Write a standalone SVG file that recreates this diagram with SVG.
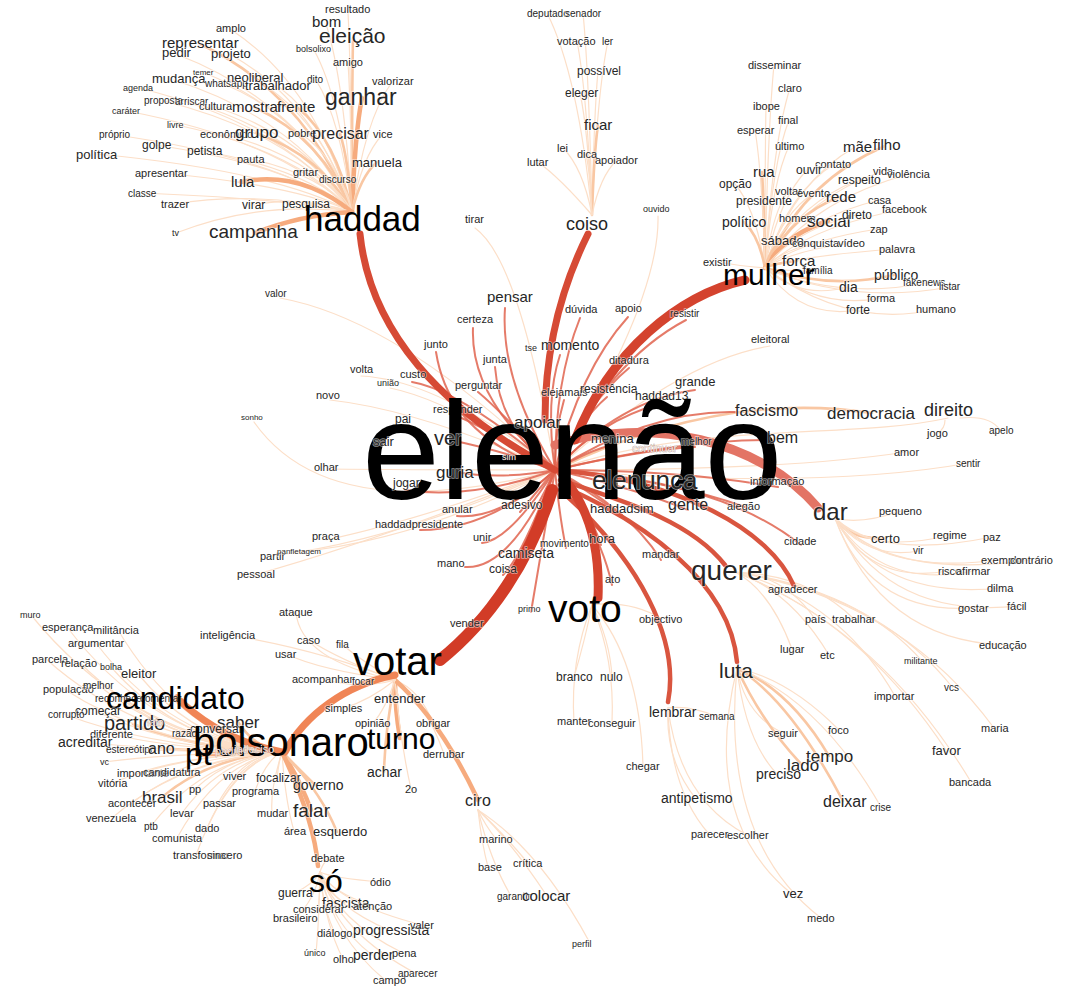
<svg xmlns="http://www.w3.org/2000/svg" width="1074" height="990" viewBox="0 0 1074 990">
<style>
text{font-family:"Liberation Sans",Arial,sans-serif;fill:#262626;paint-order:stroke;stroke:#fff;stroke-opacity:.55;stroke-width:1.6px}
.big{fill:#000;stroke:none}
.lt{fill:#fbe6e0;stroke:#777;stroke-opacity:.8;stroke-width:.5px}
.e{fill:none;stroke-linecap:round}
.p1{stroke:#fcdfc8;stroke-width:1.2}
.p2{stroke:#f9c7a3;stroke-width:2.6}
.p3{stroke:#f6ab7e;stroke-width:4.5}
.p4{stroke:#f08556;stroke-width:7}
.r1{stroke:#e0644f;stroke-width:2;stroke-opacity:.85}
.r2{stroke:#d9553f;stroke-width:4.5}
.r3{stroke:#d64a35;stroke-width:7}
.r4{stroke:#d4432e;stroke-width:9}
.r5{stroke:#d23c27;stroke-width:12}
.rp{stroke:#e37465;stroke-width:9}
.s8{font-size:8px}.s9{font-size:9px}.s10{font-size:10px}.s11{font-size:11px}.s12{font-size:12px}.s13{font-size:13px}.s14{font-size:14px}.s15{font-size:15px}.s16{font-size:16px}.s17{font-size:17px}.s18{font-size:18px}.s19{font-size:19px}.s20{font-size:20px}.s21{font-size:21px}.s23{font-size:23px}.s24{font-size:24px}.s26{font-size:26px}.s28{font-size:28px}.s30{font-size:30px}.s32{font-size:32px}.s35{font-size:35px}.s39{font-size:39px}.s40{font-size:40px}.s140{font-size:140px}
</style>
<rect width="1074" height="990" fill="#fff"/>
<g id="connectors">
<path class="e p1" d="M352,212 Q351,72 348,12"/>
<path class="e p1" d="M352,212 Q344,80 326,24"/>
<path class="e p2" d="M352,212 Q352,90 353,38"/>
<path class="e p1" d="M352,212 Q341,99 314,50"/>
<path class="e p1" d="M352,212 Q351,108 348,63"/>
<path class="e p1" d="M352,212 Q364,121 392,82"/>
<path class="e p1" d="M352,212 Q341,120 316,80"/>
<path class="e p3" d="M352,212 Q355,132 362,98"/>
<path class="e p2" d="M352,212 Q306,94 200,44"/>
<path class="e p1" d="M352,212 Q315,84 230,29"/>
<path class="e p1" d="M352,212 Q299,101 176,54"/>
<path class="e p1" d="M352,212 Q316,102 231,55"/>
<path class="e p1" d="M352,212 Q299,120 174,80"/>
<path class="e p1" d="M352,212 Q308,115 205,73"/>
<path class="e p1" d="M352,212 Q314,122 224,84"/>
<path class="e p1" d="M352,212 Q323,119 255,79"/>
<path class="e p1" d="M352,212 Q330,125 279,87"/>
<path class="e p1" d="M352,212 Q288,125 139,88"/>
<path class="e p1" d="M352,212 Q296,134 164,101"/>
<path class="e p1" d="M352,212 Q303,135 190,102"/>
<path class="e p1" d="M352,212 Q311,139 216,107"/>
<path class="e p2" d="M352,212 Q323,139 254,107"/>
<path class="e p2" d="M352,212 Q336,139 297,107"/>
<path class="e p1" d="M352,212 Q285,141 127,111"/>
<path class="e p1" d="M352,212 Q300,151 177,125"/>
<path class="e p1" d="M352,212 Q281,158 116,135"/>
<path class="e p1" d="M352,212 Q313,157 223,134"/>
<path class="e p2" d="M352,212 Q323,157 256,133"/>
<path class="e p1" d="M352,212 Q336,157 300,133"/>
<path class="e p2" d="M352,212 Q348,157 340,134"/>
<path class="e p1" d="M352,212 Q361,157 383,134"/>
<path class="e p1" d="M352,212 Q276,171 97,154"/>
<path class="e p1" d="M352,212 Q293,165 155,145"/>
<path class="e p1" d="M352,212 Q307,169 203,151"/>
<path class="e p2" d="M352,212 Q360,177 377,162"/>
<path class="e p1" d="M352,212 Q322,175 251,159"/>
<path class="e p1" d="M352,212 Q295,185 161,173"/>
<path class="e p1" d="M352,212 Q338,184 305,172"/>
<path class="e p1" d="M352,212 Q348,190 339,180"/>
<path class="e p3" d="M352,212 Q300,170 241,182"/>
<path class="e p1" d="M352,212 Q289,199 142,193"/>
<path class="e p1" d="M352,212 Q260,190 174,204"/>
<path class="e p1" d="M352,212 Q300,195 254,205"/>
<path class="e p1" d="M352,212 Q330,205 310,204"/>
<path class="e p1" d="M352,212 Q260,200 176,233"/>
<path class="e p3" d="M352,212 Q300,215 255,233"/>
<path class="e p1" d="M592,215 Q578,74 547,13"/>
<path class="e p1" d="M592,215 Q589,74 583,13"/>
<path class="e p1" d="M592,215 Q587,93 577,41"/>
<path class="e p1" d="M592,215 Q597,93 608,41"/>
<path class="e p1" d="M592,215 Q594,114 598,71"/>
<path class="e p1" d="M592,215 Q588,130 580,93"/>
<path class="e p2" d="M592,215 Q594,152 598,125"/>
<path class="e p1" d="M592,215 Q583,168 563,148"/>
<path class="e p1" d="M592,215 Q590,172 586,154"/>
<path class="e p1" d="M592,215 Q600,176 617,160"/>
<path class="e p1" d="M592,215 Q560,178 538,162"/>
<path class="e p1" d="M765,268 Q768,126 774,65"/>
<path class="e p1" d="M765,268 Q773,142 790,88"/>
<path class="e p1" d="M765,268 Q765,155 766,106"/>
<path class="e p1" d="M765,268 Q772,164 789,120"/>
<path class="e p1" d="M765,268 Q762,172 755,130"/>
<path class="e p1" d="M765,268 Q772,183 789,146"/>
<path class="e p1" d="M765,268 Q792,183 855,147"/>
<path class="e p2" d="M765,268 Q801,182 885,146"/>
<path class="e p1" d="M765,268 Q786,195 834,164"/>
<path class="e p1" d="M765,268 Q778,200 807,170"/>
<path class="e p2" d="M765,268 Q764,201 762,172"/>
<path class="e p1" d="M765,268 Q800,200 883,171"/>
<path class="e p1" d="M765,268 Q808,202 909,174"/>
<path class="e p1" d="M765,268 Q793,206 858,180"/>
<path class="e p1" d="M765,268 Q756,209 735,184"/>
<path class="e p1" d="M765,268 Q772,214 788,191"/>
<path class="e p1" d="M765,268 Q780,215 814,193"/>
<path class="e p2" d="M765,268 Q787,218 839,197"/>
<path class="e p1" d="M765,268 Q799,220 879,200"/>
<path class="e p1" d="M765,268 Q764,221 762,201"/>
<path class="e p1" d="M765,268 Q807,227 905,209"/>
<path class="e p2" d="M765,268 Q759,236 744,222"/>
<path class="e p1" d="M765,268 Q775,233 798,218"/>
<path class="e p3" d="M765,268 Q784,235 828,221"/>
<path class="e p1" d="M765,268 Q792,231 856,215"/>
<path class="e p1" d="M765,268 Q799,241 878,229"/>
<path class="e p2" d="M765,268 Q770,249 782,240"/>
<path class="e p1" d="M765,268 Q780,251 815,243"/>
<path class="e p1" d="M765,268 Q791,251 851,243"/>
<path class="e p1" d="M765,268 Q805,255 897,249"/>
<path class="e p2" d="M765,268 Q775,263 797,261"/>
<path class="e p1" d="M765,268 Q782,271 822,271"/>
<path class="e p2" d="M765,268 Q830,290 894,275"/>
<path class="e p1" d="M765,268 Q840,300 925,283"/>
<path class="e p1" d="M765,268 Q850,305 950,287"/>
<path class="e p1" d="M765,268 Q800,300 848,287"/>
<path class="e p1" d="M765,268 Q820,310 881,298"/>
<path class="e p1" d="M765,268 Q800,320 858,310"/>
<path class="e p1" d="M765,268 Q850,330 936,309"/>
<path class="e p1" d="M765,268 Q740,266 718,262"/>
<path class="e p1" d="M555,470 Q400,320 280,298"/>
<path class="e p1" d="M555,470 Q440,380 361,376"/>
<path class="e p1" d="M555,470 Q420,410 330,400"/>
<path class="e p1" d="M555,470 Q330,530 254,422"/>
<path class="e p1" d="M555,470 Q420,470 328,469"/>
<path class="e p1" d="M555,470 Q450,400 390,388"/>
<path class="e p1" d="M555,470 Q520,260 475,228"/>
<path class="e p1" d="M555,470 Q660,300 658,216"/>
<path class="e p1" d="M555,470 Q680,360 770,346"/>
<path class="e p1" d="M555,470 Q420,520 326,540"/>
<path class="e p1" d="M555,470 Q400,540 272,556"/>
<path class="e p1" d="M555,470 Q420,540 298,552"/>
<path class="e p1" d="M555,470 Q380,540 254,575"/>
<path class="e p2" d="M555,470 Q720,390 872,413"/>
<path class="e p1" d="M555,470 C700,420 850,440 948,418"/>
<path class="e p1" d="M555,470 Q790,470 906,452"/>
<path class="e p1" d="M555,470 Q820,490 969,463"/>
<path class="e p1" d="M960,418 Q990,415 1000,430"/>
<path class="e p1" d="M945,420 Q945,428 938,433"/>
<path class="e p1" d="M835,518 Q860,525 901,511"/>
<path class="e p2" d="M835,518 Q850,540 884,538"/>
<path class="e p1" d="M835,518 Q870,555 950,535"/>
<path class="e p1" d="M835,518 Q880,560 992,537"/>
<path class="e p1" d="M835,518 Q865,560 919,551"/>
<path class="e p1" d="M835,518 Q880,575 1000,560"/>
<path class="e p1" d="M835,518 Q890,580 1030,560"/>
<path class="e p1" d="M835,518 Q870,585 948,571"/>
<path class="e p1" d="M835,518 Q880,590 974,571"/>
<path class="e p1" d="M835,518 Q880,600 1001,588"/>
<path class="e p1" d="M835,518 Q890,620 1020,606"/>
<path class="e p1" d="M835,518 Q870,615 973,608"/>
<path class="e p1" d="M835,518 Q880,640 1004,645"/>
<path class="e p1" d="M735,572 Q785,575 815,619"/>
<path class="e p1" d="M735,572 Q810,575 854,619"/>
<path class="e p1" d="M735,572 Q770,590 792,649"/>
<path class="e p1" d="M735,572 Q790,590 829,655"/>
<path class="e p1" d="M735,572 Q860,590 922,661"/>
<path class="e p1" d="M735,572 Q840,600 895,696"/>
<path class="e p1" d="M735,572 Q880,595 953,688"/>
<path class="e p1" d="M735,572 Q900,600 994,728"/>
<path class="e p1" d="M735,572 Q860,620 946,750"/>
<path class="e p1" d="M735,572 Q880,630 971,782"/>
<path class="e p1" d="M737,668 Q745,715 783,733"/>
<path class="e p1" d="M737,668 Q790,680 839,730"/>
<path class="e p2" d="M737,668 Q790,690 829,756"/>
<path class="e p2" d="M737,668 Q760,720 802,765"/>
<path class="e p1" d="M737,668 Q745,740 777,774"/>
<path class="e p2" d="M737,668 Q790,700 843,801"/>
<path class="e p1" d="M737,668 Q820,700 881,807"/>
<path class="e p1" d="M737,668 Q700,820 792,894"/>
<path class="e p1" d="M737,668 Q720,840 821,918"/>
<path class="e p1" d="M592,605 Q585,640 574,677"/>
<path class="e p1" d="M592,605 Q610,640 612,677"/>
<path class="e p1" d="M592,605 Q570,660 574,722"/>
<path class="e p1" d="M592,605 Q615,660 612,723"/>
<path class="e p1" d="M592,605 Q640,660 643,766"/>
<path class="e p1" d="M592,605 Q630,600 662,619"/>
<path class="e p1" d="M668,708 Q665,760 696,799"/>
<path class="e p1" d="M668,708 Q670,790 709,834"/>
<path class="e p1" d="M668,708 Q680,800 747,835"/>
<path class="e p1" d="M668,708 Q690,705 718,717"/>
<path class="e p3" d="M395,680 Q395,710 400,738"/>
<path class="e p1" d="M395,680 Q395,690 400,698"/>
<path class="e p2" d="M395,680 Q385,730 384,772"/>
<path class="e p1" d="M395,680 Q400,740 411,789"/>
<path class="e p1" d="M395,680 Q420,690 433,723"/>
<path class="e p1" d="M395,680 Q425,700 444,754"/>
<path class="e p3" d="M395,680 Q440,720 478,800"/>
<path class="e p1" d="M395,680 Q300,660 296,612"/>
<path class="e p1" d="M395,680 Q340,660 309,640"/>
<path class="e p1" d="M395,680 Q360,660 343,645"/>
<path class="e p1" d="M395,680 Q320,670 286,654"/>
<path class="e p1" d="M395,680 Q360,690 323,679"/>
<path class="e p1" d="M395,680 Q380,682 364,681"/>
<path class="e p1" d="M395,680 Q370,700 344,708"/>
<path class="e p1" d="M395,680 Q385,710 373,723"/>
<path class="e p1" d="M395,680 Q320,650 230,635"/>
<path class="e p3" d="M282,752 Q232,752 198,755"/>
<path class="e p2" d="M282,752 Q193,749 133,724"/>
<path class="e p2" d="M282,752 Q256,749 238,722"/>
<path class="e p2" d="M282,752 Q209,752 160,748"/>
<path class="e p2" d="M282,752 Q209,757 161,798"/>
<path class="e p1" d="M282,752 Q163,751 84,742"/>
<path class="e p1" d="M282,752 Q196,744 138,674"/>
<path class="e p1" d="M282,752 Q131,738 31,615"/>
<path class="e p1" d="M282,752 Q153,740 67,627"/>
<path class="e p1" d="M282,752 Q184,740 118,630"/>
<path class="e p1" d="M282,752 Q170,741 96,643"/>
<path class="e p1" d="M282,752 Q140,743 46,659"/>
<path class="e p1" d="M282,752 Q161,743 80,663"/>
<path class="e p1" d="M282,752 Q179,744 111,667"/>
<path class="e p1" d="M282,752 Q151,746 64,689"/>
<path class="e p1" d="M282,752 Q172,745 98,685"/>
<path class="e p1" d="M282,752 Q185,747 120,698"/>
<path class="e p1" d="M282,752 Q151,748 64,714"/>
<path class="e p1" d="M282,752 Q170,748 96,711"/>
<path class="e p1" d="M282,752 Q208,749 159,722"/>
<path class="e p1" d="M282,752 Q240,750 212,729"/>
<path class="e p1" d="M282,752 Q222,750 182,733"/>
<path class="e p1" d="M282,752 Q179,750 111,734"/>
<path class="e p1" d="M282,752 Q189,752 127,749"/>
<path class="e p1" d="M282,752 Q175,753 104,762"/>
<path class="e p1" d="M282,752 Q196,754 138,773"/>
<path class="e p1" d="M282,752 Q217,754 173,772"/>
<path class="e p1" d="M282,752 Q180,755 112,783"/>
<path class="e p1" d="M282,752 Q192,757 132,803"/>
<path class="e p1" d="M282,752 Q230,756 195,789"/>
<path class="e p1" d="M282,752 Q244,757 218,803"/>
<path class="e p1" d="M282,752 Q180,759 112,818"/>
<path class="e p1" d="M282,752 Q222,758 182,813"/>
<path class="e p1" d="M282,752 Q203,759 151,826"/>
<path class="e p1" d="M282,752 Q237,760 207,828"/>
<path class="e p1" d="M282,752 Q219,761 177,838"/>
<path class="e p1" d="M282,752 Q230,762 196,855"/>
<path class="e p1" d="M282,752 Q254,754 235,776"/>
<path class="e p1" d="M282,752 Q279,760 277,778"/>
<path class="e p1" d="M282,752 Q266,760 255,791"/>
<path class="e p2" d="M282,752 Q300,770 315,785"/>
<path class="e p1" d="M282,752 Q270,790 272,813"/>
<path class="e p3" d="M282,752 Q300,780 311,810"/>
<path class="e p1" d="M282,752 Q285,800 294,831"/>
<path class="e p2" d="M282,752 Q320,790 337,832"/>
<path class="e p3" d="M282,752 C300,790 315,830 318,866"/>
<path class="e p4" d="M282,752 Q220,740 177,698"/>
<path class="e p4" d="M395,675 C345,685 305,715 285,752"/>
<path class="e p1" d="M320,872 Q322,865 328,858"/>
<path class="e p1" d="M320,872 Q313,885 294,893"/>
<path class="e p1" d="M320,872 Q332,878 381,882"/>
<path class="e p1" d="M320,872 Q325,891 345,903"/>
<path class="e p1" d="M320,872 Q331,892 373,906"/>
<path class="e p1" d="M320,872 Q320,894 318,909"/>
<path class="e p1" d="M320,872 Q315,900 295,918"/>
<path class="e p1" d="M320,872 Q334,907 389,930"/>
<path class="e p1" d="M320,872 Q340,904 422,925"/>
<path class="e p1" d="M320,872 Q323,909 335,933"/>
<path class="e p1" d="M320,872 Q319,922 316,953"/>
<path class="e p1" d="M320,872 Q325,924 343,959"/>
<path class="e p1" d="M320,872 Q330,922 372,955"/>
<path class="e p1" d="M320,872 Q337,921 403,953"/>
<path class="e p1" d="M320,872 Q339,933 417,974"/>
<path class="e p1" d="M320,872 Q333,937 385,980"/>
<path class="e p1" d="M478,810 Q485,825 496,839"/>
<path class="e p1" d="M478,810 Q482,845 488,867"/>
<path class="e p1" d="M478,810 Q500,830 528,863"/>
<path class="e p1" d="M478,810 Q490,860 511,896"/>
<path class="e p1" d="M478,810 Q510,840 547,896"/>
<path class="e p1" d="M478,810 Q540,850 590,943"/>
<path class="e r1" d="M555,470 Q500,380 505,308"/>
<path class="e r1" d="M555,470 Q470,400 473,328"/>
<path class="e r1" d="M555,470 Q450,440 436,352"/>
<path class="e r1" d="M555,470 Q500,430 495,367"/>
<path class="e r1" d="M555,470 Q545,400 560,355"/>
<path class="e r1" d="M555,470 Q555,380 580,318"/>
<path class="e r1" d="M555,470 Q580,370 628,317"/>
<path class="e r1" d="M555,470 Q610,360 686,320"/>
<path class="e r1" d="M555,470 Q590,400 629,368"/>
<path class="e r1" d="M555,470 Q555,430 564,400"/>
<path class="e r1" d="M555,470 Q580,420 607,397"/>
<path class="e r1" d="M555,470 Q600,420 660,404"/>
<path class="e r1" d="M555,470 Q620,400 695,390"/>
<path class="e r1" d="M555,470 Q650,410 735,412"/>
<path class="e r1" d="M555,470 Q680,440 768,440"/>
<path class="e r1" d="M555,470 Q460,390 412,382"/>
<path class="e r1" d="M555,470 Q500,410 478,392"/>
<path class="e r1" d="M555,470 Q490,430 457,416"/>
<path class="e r1" d="M555,470 Q500,450 450,440"/>
<path class="e r1" d="M555,470 Q500,480 456,472"/>
<path class="e r1" d="M555,470 Q470,500 405,490"/>
<path class="e r1" d="M555,470 Q500,520 457,516"/>
<path class="e r1" d="M555,470 Q530,500 520,512"/>
<path class="e r1" d="M555,470 Q490,530 420,530"/>
<path class="e r1" d="M555,470 Q510,540 482,543"/>
<path class="e r1" d="M555,470 Q530,530 526,552"/>
<path class="e r1" d="M555,470 Q510,570 465,567"/>
<path class="e r1" d="M555,470 Q520,560 503,575"/>
<path class="e r1" d="M555,470 Q560,520 566,548"/>
<path class="e r1" d="M555,470 Q590,510 601,545"/>
<path class="e r1" d="M555,470 Q630,510 661,560"/>
<path class="e r1" d="M555,470 Q600,530 612,585"/>
<path class="e r1" d="M555,470 Q540,560 531,612"/>
<path class="e r1" d="M555,470 Q510,600 467,625"/>
<path class="e r1" d="M555,470 Q640,490 688,510"/>
<path class="e r1" d="M555,470 Q600,500 622,515"/>
<path class="e r1" d="M555,470 Q670,480 745,507"/>
<path class="e r1" d="M555,470 Q680,470 778,487"/>
<path class="e r1" d="M555,470 Q720,480 801,545"/>
<path class="e r1" d="M555,470 Q590,450 612,445"/>
<path class="e r1" d="M555,470 Q640,450 695,447"/>
<path class="e r2" d="M560,480 C620,500 690,520 725,565"/>
<path class="e r2" d="M560,485 C640,520 730,580 737,662"/>
<path class="e r2" d="M560,490 C640,560 680,640 668,702"/>
<path class="e r2" d="M555,470 C680,480 770,530 794,586"/>
<path class="e rp" d="M555,445 C650,415 760,440 818,508"/>
<path class="e r3" d="M555,470 C440,410 370,330 360,234"/>
<path class="e r3" d="M545,420 C545,340 565,280 588,234"/>
<path class="e r4" d="M575,440 C610,350 680,295 745,280"/>
<path class="e r4" d="M565,480 C590,510 600,550 598,598"/>
<path class="e r5" d="M552,490 C530,560 490,620 440,660"/>
</g>
<g id="nodes">
<g id="n-resultado"><text class="s11" x="325" y="13">resultado</text></g>
<g id="n-bom"><text class="s15" x="312" y="27">bom</text></g>
<g id="n-eleicao"><text class="s21" x="319" y="43">eleição</text></g>
<g id="n-bolsolixo"><text class="s9" x="296" y="52">bolsolixo</text></g>
<g id="n-amigo"><text class="s11" x="333" y="66">amigo</text></g>
<g id="n-valorizar"><text class="s11" x="372" y="85">valorizar</text></g>
<g id="n-dito"><text class="s10" x="307" y="83">dito</text></g>
<g id="n-ganhar"><text class="s23" x="325" y="105">ganhar</text></g>
<g id="n-representar"><text class="s15" x="162" y="48">representar</text></g>
<g id="n-amplo"><text class="s11" x="216" y="32">amplo</text></g>
<g id="n-pedir"><text class="s13" x="162" y="57">pedir</text></g>
<g id="n-projeto"><text class="s13" x="211" y="58">projeto</text></g>
<g id="n-mudanca"><text class="s13" x="152" y="83">mudança</text></g>
<g id="n-temer"><text class="s8" x="193" y="75">temer</text></g>
<g id="n-whatsapp"><text class="s10" x="205" y="87">whatsapp</text></g>
<g id="n-neoliberal"><text class="s13" x="227" y="82">neoliberal</text></g>
<g id="n-trabalhador"><text class="s13" x="245" y="90">trabalhador</text></g>
<g id="n-agenda"><text class="s9" x="123" y="91">agenda</text></g>
<g id="n-proposta"><text class="s10" x="144" y="104">proposta</text></g>
<g id="n-arriscar"><text class="s10" x="175" y="105">arriscar</text></g>
<g id="n-cultura"><text class="s11" x="199" y="110">cultura</text></g>
<g id="n-mostrar"><text class="s15" x="232" y="112">mostrar</text></g>
<g id="n-frente"><text class="s15" x="277" y="112">frente</text></g>
<g id="n-carater"><text class="s9" x="112" y="114">caráter</text></g>
<g id="n-livre"><text class="s9" x="167" y="128">livre</text></g>
<g id="n-proprio"><text class="s10" x="99" y="138">próprio</text></g>
<g id="n-economico"><text class="s11" x="200" y="138">econômico</text></g>
<g id="n-grupo"><text class="s17" x="235" y="138">grupo</text></g>
<g id="n-pobre"><text class="s11" x="288" y="137">pobre</text></g>
<g id="n-precisar"><text class="s16" x="312" y="139">precisar</text></g>
<g id="n-vice"><text class="s11" x="373" y="138">vice</text></g>
<g id="n-politica"><text class="s13" x="76" y="159">política</text></g>
<g id="n-golpe"><text class="s12" x="142" y="149">golpe</text></g>
<g id="n-petista"><text class="s12" x="187" y="155">petista</text></g>
<g id="n-manuela"><text class="s13" x="352" y="167">manuela</text></g>
<g id="n-pauta"><text class="s11" x="237" y="163">pauta</text></g>
<g id="n-apresentar"><text class="s11" x="135" y="177">apresentar</text></g>
<g id="n-gritar"><text class="s11" x="293" y="176">gritar</text></g>
<g id="n-discurso"><text class="s10" x="319" y="183">discurso</text></g>
<g id="n-lula"><text class="s15" x="231" y="187">lula</text></g>
<g id="n-classe"><text class="s10" x="128" y="197">classe</text></g>
<g id="n-trazer"><text class="s11" x="161" y="208">trazer</text></g>
<g id="n-virar"><text class="s12" x="242" y="209">virar</text></g>
<g id="n-pesquisa"><text class="s12" x="282" y="208">pesquisa</text></g>
<g id="n-tv"><text class="s9" x="172" y="236">tv</text></g>
<g id="n-campanha"><text class="s19" x="209" y="238">campanha</text></g>
<g id="n-haddad"><text class="s35 big" x="304" y="231">haddad</text></g>
<g id="n-valor"><text class="s10" x="265" y="297">valor</text></g>
<g id="n-deputado"><text class="s10" x="527" y="17">deputado</text></g>
<g id="n-senador"><text class="s10" x="565" y="17">senador</text></g>
<g id="n-votacao"><text class="s11" x="557" y="45">votação</text></g>
<g id="n-ler"><text class="s10" x="602" y="45">ler</text></g>
<g id="n-possivel"><text class="s12" x="577" y="75">possível</text></g>
<g id="n-eleger"><text class="s12" x="565" y="97">eleger</text></g>
<g id="n-ficar"><text class="s15" x="584" y="130">ficar</text></g>
<g id="n-lei"><text class="s11" x="557" y="152">lei</text></g>
<g id="n-dica"><text class="s11" x="577" y="158">dica</text></g>
<g id="n-apoiador"><text class="s11" x="595" y="164">apoiador</text></g>
<g id="n-lutar"><text class="s11" x="527" y="166">lutar</text></g>
<g id="n-coiso"><text class="s18" x="566" y="230">coiso</text></g>
<g id="n-ouvido"><text class="s9" x="643" y="212">ouvido</text></g>
<g id="n-tirar"><text class="s11" x="465" y="223">tirar</text></g>
<g id="n-pensar"><text class="s15" x="487" y="302">pensar</text></g>
<g id="n-disseminar"><text class="s11" x="748" y="69">disseminar</text></g>
<g id="n-claro"><text class="s11" x="778" y="92">claro</text></g>
<g id="n-ibope"><text class="s11" x="753" y="110">ibope</text></g>
<g id="n-final"><text class="s11" x="778" y="124">final</text></g>
<g id="n-esperar"><text class="s11" x="737" y="134">esperar</text></g>
<g id="n-ultimo"><text class="s11" x="775" y="150">último</text></g>
<g id="n-mae"><text class="s15" x="843" y="152">mãe</text></g>
<g id="n-filho"><text class="s15" x="873" y="150">filho</text></g>
<g id="n-contato"><text class="s11" x="815" y="168">contato</text></g>
<g id="n-ouvir"><text class="s12" x="796" y="174">ouvir</text></g>
<g id="n-rua"><text class="s15" x="753" y="177">rua</text></g>
<g id="n-vida"><text class="s11" x="873" y="175">vida</text></g>
<g id="n-violencia"><text class="s11" x="887" y="178">violência</text></g>
<g id="n-respeito"><text class="s12" x="838" y="184">respeito</text></g>
<g id="n-opcao"><text class="s12" x="719" y="188">opção</text></g>
<g id="n-voltar"><text class="s11" x="775" y="195">voltar</text></g>
<g id="n-evento"><text class="s11" x="797" y="197">evento</text></g>
<g id="n-rede"><text class="s15" x="826" y="202">rede</text></g>
<g id="n-casa"><text class="s11" x="868" y="204">casa</text></g>
<g id="n-presidente"><text class="s12" x="736" y="205">presidente</text></g>
<g id="n-facebook"><text class="s11" x="882" y="213">facebook</text></g>
<g id="n-politico"><text class="s14" x="722" y="227">político</text></g>
<g id="n-homem"><text class="s11" x="779" y="222">homem</text></g>
<g id="n-social"><text class="s17" x="807" y="227">social</text></g>
<g id="n-direto"><text class="s12" x="842" y="219">direto</text></g>
<g id="n-zap"><text class="s11" x="870" y="233">zap</text></g>
<g id="n-sabado"><text class="s13" x="761" y="245">sábado</text></g>
<g id="n-conquista"><text class="s11" x="792" y="247">conquista</text></g>
<g id="n-video"><text class="s11" x="838" y="247">vídeo</text></g>
<g id="n-palavra"><text class="s11" x="879" y="253">palavra</text></g>
<g id="n-forca"><text class="s15" x="782" y="266">força</text></g>
<g id="n-familia"><text class="s10" x="803" y="274">família</text></g>
<g id="n-mulher"><text class="s30 big" x="723" y="285">mulher</text></g>
<g id="n-publico"><text class="s14" x="874" y="280">público</text></g>
<g id="n-fakenews"><text class="s10" x="903" y="286">fakenews</text></g>
<g id="n-listar"><text class="s10" x="939" y="290">listar</text></g>
<g id="n-dia"><text class="s14" x="839" y="292">dia</text></g>
<g id="n-forma"><text class="s11" x="867" y="302">forma</text></g>
<g id="n-forte"><text class="s12" x="846" y="314">forte</text></g>
<g id="n-humano"><text class="s11" x="916" y="313">humano</text></g>
<g id="n-existir"><text class="s11" x="703" y="266">existir</text></g>
<g id="n-resistir"><text class="s10" x="670" y="317">resistir</text></g>
<g id="n-eleitoral"><text class="s11" x="751" y="343">eleitoral</text></g>
<g id="n-certeza"><text class="s11" x="457" y="323">certeza</text></g>
<g id="n-junto"><text class="s11" x="424" y="348">junto</text></g>
<g id="n-tse"><text class="s9" x="525" y="351">tse</text></g>
<g id="n-momento"><text class="s14" x="541" y="350">momento</text></g>
<g id="n-duvida"><text class="s11" x="565" y="313">dúvida</text></g>
<g id="n-apoio"><text class="s11" x="615" y="312">apoio</text></g>
<g id="n-ditadura"><text class="s11" x="609" y="364">ditadura</text></g>
<g id="n-junta"><text class="s11" x="483" y="363">junta</text></g>
<g id="n-volta"><text class="s11" x="350" y="373">volta</text></g>
<g id="n-custo"><text class="s11" x="400" y="378">custo</text></g>
<g id="n-uniao"><text class="s9" x="377" y="386">união</text></g>
<g id="n-perguntar"><text class="s11" x="455" y="389">perguntar</text></g>
<g id="n-elejamais"><text class="s11" x="541" y="396">elejamais</text></g>
<g id="n-resistencia"><text class="s12" x="580" y="393">resistência</text></g>
<g id="n-haddad13"><text class="s12" x="635" y="400">haddad13</text></g>
<g id="n-grande"><text class="s13" x="675" y="386">grande</text></g>
<g id="n-novo"><text class="s11" x="316" y="399">novo</text></g>
<g id="n-responder"><text class="s11" x="433" y="413">responder</text></g>
<g id="n-sonho"><text class="s8" x="241" y="420">sonho</text></g>
<g id="n-pai"><text class="s12" x="395" y="423">pai</text></g>
<g id="n-elenao"><text class="s140 big" x="362" y="499">elenão</text></g>
<g id="n-apoiar"><text class="s17" x="514" y="428">apoiar</text></g>
<g id="n-fascismo"><text class="s16" x="735" y="416">fascismo</text></g>
<g id="n-democracia"><text class="s17" x="827" y="419">democracia</text></g>
<g id="n-direito"><text class="s18" x="924" y="416">direito</text></g>
<g id="n-apelo"><text class="s10" x="989" y="434">apelo</text></g>
<g id="n-jogo"><text class="s11" x="927" y="437">jogo</text></g>
<g id="n-bem"><text class="s16" x="767" y="443">bem</text></g>
<g id="n-ver"><text class="s20" x="434" y="445">ver</text></g>
<g id="n-sair"><text class="s13" x="373" y="446">sair</text></g>
<g id="n-menina"><text class="s13" x="591" y="443">menina</text></g>
<g id="n-melhor"><text class="s10" x="681" y="445">melhor</text></g>
<g id="n-continuar"><text class="s11 lt" x="632" y="452">continuar</text></g>
<g id="n-amor"><text class="s11" x="894" y="456">amor</text></g>
<g id="n-sentir"><text class="s10" x="956" y="467">sentir</text></g>
<g id="n-sim"><text class="s9 lt" x="502" y="460">sim</text></g>
<g id="n-guria"><text class="s17" x="436" y="478">guria</text></g>
<g id="n-olhar"><text class="s11" x="314" y="471">olhar</text></g>
<g id="n-elenunca"><text class="s26" x="592" y="489">elenunca</text></g>
<g id="n-informacao"><text class="s11" x="750" y="485">informação</text></g>
<g id="n-jogar"><text class="s12" x="393" y="487">jogar</text></g>
<g id="n-gente"><text class="s16" x="668" y="510">gente</text></g>
<g id="n-haddadsim"><text class="s13" x="590" y="513">haddadsim</text></g>
<g id="n-alegao"><text class="s11" x="727" y="510">alegão</text></g>
<g id="n-dar"><text class="s24" x="813" y="520">dar</text></g>
<g id="n-pequeno"><text class="s11" x="879" y="515">pequeno</text></g>
<g id="n-anular"><text class="s11" x="442" y="513">anular</text></g>
<g id="n-adesivo"><text class="s12" x="501" y="509">adesivo</text></g>
<g id="n-haddadpresidente"><text class="s11" x="375" y="528">haddadpresidente</text></g>
<g id="n-cidade"><text class="s11" x="784" y="545">cidade</text></g>
<g id="n-certo"><text class="s13" x="871" y="543">certo</text></g>
<g id="n-regime"><text class="s11" x="933" y="539">regime</text></g>
<g id="n-paz"><text class="s11" x="983" y="541">paz</text></g>
<g id="n-vir"><text class="s10" x="913" y="554">vir</text></g>
<g id="n-exemplo"><text class="s11" x="981" y="564">exemplo</text></g>
<g id="n-contrario"><text class="s11" x="1010" y="564">contrário</text></g>
<g id="n-risco"><text class="s11" x="938" y="575">risco</text></g>
<g id="n-afirmar"><text class="s11" x="956" y="575">afirmar</text></g>
<g id="n-dilma"><text class="s11" x="987" y="592">dilma</text></g>
<g id="n-facil"><text class="s11" x="1007" y="610">fácil</text></g>
<g id="n-gostar"><text class="s11" x="958" y="612">gostar</text></g>
<g id="n-agradecer"><text class="s11" x="768" y="593">agradecer</text></g>
<g id="n-pais"><text class="s11" x="805" y="623">país</text></g>
<g id="n-trabalhar"><text class="s11" x="832" y="623">trabalhar</text></g>
<g id="n-educacao"><text class="s11" x="979" y="649">educação</text></g>
<g id="n-lugar"><text class="s11" x="780" y="653">lugar</text></g>
<g id="n-etc"><text class="s11" x="820" y="659">etc</text></g>
<g id="n-militante"><text class="s9" x="904" y="664">militante</text></g>
<g id="n-unir"><text class="s11" x="473" y="541">unir</text></g>
<g id="n-camiseta"><text class="s14" x="498" y="558">camiseta</text></g>
<g id="n-movimento"><text class="s10" x="540" y="547">movimento</text></g>
<g id="n-hora"><text class="s13" x="589" y="543">hora</text></g>
<g id="n-mano"><text class="s11" x="437" y="567">mano</text></g>
<g id="n-coisa"><text class="s12" x="489" y="573">coisa</text></g>
<g id="n-mandar"><text class="s11" x="642" y="558">mandar</text></g>
<g id="n-ato"><text class="s11" x="605" y="583">ato</text></g>
<g id="n-querer"><text class="s28" x="691" y="580">querer</text></g>
<g id="n-praca"><text class="s11" x="312" y="540">praça</text></g>
<g id="n-partir"><text class="s11" x="260" y="560">partir</text></g>
<g id="n-panfletagem"><text class="s8" x="277" y="554">panfletagem</text></g>
<g id="n-pessoal"><text class="s11" x="237" y="578">pessoal</text></g>
<g id="n-primo"><text class="s9" x="518" y="612">primo</text></g>
<g id="n-voto"><text class="s39 big" x="548" y="622">voto</text></g>
<g id="n-vender"><text class="s11" x="450" y="627">vender</text></g>
<g id="n-objectivo"><text class="s11" x="639" y="623">objectivo</text></g>
<g id="n-votar"><text class="s40 big" x="353" y="675">votar</text></g>
<g id="n-ataque"><text class="s11" x="279" y="616">ataque</text></g>
<g id="n-inteligencia"><text class="s11" x="200" y="639">inteligência</text></g>
<g id="n-caso"><text class="s11" x="297" y="644">caso</text></g>
<g id="n-fila"><text class="s10" x="336" y="648">fila</text></g>
<g id="n-usar"><text class="s11" x="275" y="658">usar</text></g>
<g id="n-acompanhar"><text class="s11" x="292" y="683">acompanhar</text></g>
<g id="n-focar"><text class="s10" x="352" y="685">focar</text></g>
<g id="n-simples"><text class="s11" x="325" y="712">simples</text></g>
<g id="n-entender"><text class="s13" x="374" y="703">entender</text></g>
<g id="n-opiniao"><text class="s11" x="355" y="727">opinião</text></g>
<g id="n-obrigar"><text class="s11" x="416" y="727">obrigar</text></g>
<g id="n-turno"><text class="s30 big" x="367" y="749">turno</text></g>
<g id="n-derrubar"><text class="s11" x="423" y="758">derrubar</text></g>
<g id="n-achar"><text class="s14" x="367" y="777">achar</text></g>
<g id="n-2o"><text class="s11" x="405" y="793">2o</text></g>
<g id="n-ciro"><text class="s16" x="465" y="806">ciro</text></g>
<g id="n-muro"><text class="s9" x="20" y="618">muro</text></g>
<g id="n-esperanca"><text class="s11" x="42" y="631">esperança</text></g>
<g id="n-militancia"><text class="s11" x="93" y="634">militância</text></g>
<g id="n-argumentar"><text class="s11" x="68" y="647">argumentar</text></g>
<g id="n-parcela"><text class="s11" x="32" y="663">parcela</text></g>
<g id="n-relacao"><text class="s11" x="61" y="667">relação</text></g>
<g id="n-bolha"><text class="s9" x="100" y="670">bolha</text></g>
<g id="n-eleitor"><text class="s13" x="121" y="678">eleitor</text></g>
<g id="n-populacao"><text class="s11" x="43" y="693">população</text></g>
<g id="n-melhor2"><text class="s10" x="83" y="689">melhor</text></g>
<g id="n-reconhecer"><text class="s10" x="95" y="702">reconhecer</text></g>
<g id="n-comentar"><text class="s10" x="140" y="702">comentar</text></g>
<g id="n-candidato"><text class="s32 big" x="106" y="709">candidato</text></g>
<g id="n-comecar"><text class="s12" x="75" y="715">começar</text></g>
<g id="n-corrupto"><text class="s10" x="48" y="718">corrupto</text></g>
<g id="n-partido"><text class="s20" x="104" y="730">partido</text></g>
<g id="n-fato"><text class="s10 lt" x="147" y="726">fato</text></g>
<g id="n-saber"><text class="s17" x="217" y="728">saber</text></g>
<g id="n-conversar"><text class="s12" x="190" y="733">conversar</text></g>
<g id="n-razao"><text class="s10" x="172" y="737">razão</text></g>
<g id="n-diferente"><text class="s11" x="90" y="738">diferente</text></g>
<g id="n-acreditar"><text class="s14" x="58" y="747">acreditar</text></g>
<g id="n-estereotipo"><text class="s10" x="106" y="753">estereótipo</text></g>
<g id="n-ano"><text class="s16" x="148" y="754">ano</text></g>
<g id="n-bolsonaro"><text class="s40 big" x="193" y="756">bolsonaro</text></g>
<g id="n-padre"><text class="s11 lt" x="215" y="755">padre</text></g>
<g id="n-indeciso"><text class="s11 lt" x="234" y="753">indeciso</text></g>
<g id="n-pt"><text class="s32 big" x="185" y="765">pt</text></g>
<g id="n-vc"><text class="s9" x="100" y="765">vc</text></g>
<g id="n-importante"><text class="s11" x="117" y="777">importante</text></g>
<g id="n-candidatura"><text class="s11" x="143" y="776">candidatura</text></g>
<g id="n-viver"><text class="s11" x="223" y="780">viver</text></g>
<g id="n-focalizar"><text class="s12" x="256" y="782">focalizar</text></g>
<g id="n-vitoria"><text class="s11" x="98" y="787">vitória</text></g>
<g id="n-programa"><text class="s11" x="232" y="795">programa</text></g>
<g id="n-governo"><text class="s14" x="293" y="790">governo</text></g>
<g id="n-pp"><text class="s11" x="189" y="793">pp</text></g>
<g id="n-brasil"><text class="s17" x="142" y="803">brasil</text></g>
<g id="n-acontecer"><text class="s11" x="108" y="807">acontecer</text></g>
<g id="n-passar"><text class="s11" x="203" y="807">passar</text></g>
<g id="n-levar"><text class="s11" x="170" y="817">levar</text></g>
<g id="n-mudar"><text class="s11" x="257" y="817">mudar</text></g>
<g id="n-falar"><text class="s19" x="293" y="817">falar</text></g>
<g id="n-venezuela"><text class="s11" x="86" y="822">venezuela</text></g>
<g id="n-ptb"><text class="s10" x="144" y="830">ptb</text></g>
<g id="n-dado"><text class="s11" x="195" y="832">dado</text></g>
<g id="n-area"><text class="s11" x="284" y="835">área</text></g>
<g id="n-esquerdo"><text class="s13" x="313" y="836">esquerdo</text></g>
<g id="n-comunista"><text class="s11" x="152" y="842">comunista</text></g>
<g id="n-transformar"><text class="s11" x="173" y="859">transformar</text></g>
<g id="n-sincero"><text class="s11" x="207" y="859">sincero</text></g>
<g id="n-debate"><text class="s11" x="311" y="862">debate</text></g>
<g id="n-so"><text class="s32 big" x="309" y="892">só</text></g>
<g id="n-odio"><text class="s11" x="370" y="886">ódio</text></g>
<g id="n-guerra"><text class="s12" x="278" y="897">guerra</text></g>
<g id="n-fascista"><text class="s14" x="322" y="908">fascista</text></g>
<g id="n-atencao"><text class="s11" x="353" y="910">atenção</text></g>
<g id="n-considerar"><text class="s11" x="293" y="913">considerar</text></g>
<g id="n-brasileiro"><text class="s11" x="273" y="922">brasileiro</text></g>
<g id="n-progressista"><text class="s14" x="353" y="935">progressista</text></g>
<g id="n-valer"><text class="s11" x="410" y="929">valer</text></g>
<g id="n-dialogo"><text class="s11" x="317" y="937">diálogo</text></g>
<g id="n-unico"><text class="s9" x="304" y="956">único</text></g>
<g id="n-olho"><text class="s11" x="333" y="963">olho</text></g>
<g id="n-perder"><text class="s14" x="353" y="960">perder</text></g>
<g id="n-pena"><text class="s11" x="392" y="957">pena</text></g>
<g id="n-aparecer"><text class="s10" x="398" y="977">aparecer</text></g>
<g id="n-campo"><text class="s11" x="373" y="984">campo</text></g>
<g id="n-marino"><text class="s11" x="479" y="843">marino</text></g>
<g id="n-base"><text class="s11" x="478" y="871">base</text></g>
<g id="n-critica"><text class="s11" x="513" y="867">crítica</text></g>
<g id="n-garantir"><text class="s10" x="497" y="900">garantir</text></g>
<g id="n-colocar"><text class="s15" x="522" y="901">colocar</text></g>
<g id="n-perfil"><text class="s9" x="572" y="947">perfil</text></g>
<g id="n-branco"><text class="s12" x="556" y="681">branco</text></g>
<g id="n-nulo"><text class="s12" x="600" y="681">nulo</text></g>
<g id="n-luta"><text class="s21" x="719" y="678">luta</text></g>
<g id="n-lembrar"><text class="s14" x="649" y="717">lembrar</text></g>
<g id="n-semana"><text class="s10" x="699" y="720">semana</text></g>
<g id="n-manter"><text class="s11" x="557" y="725">manter</text></g>
<g id="n-conseguir"><text class="s11" x="588" y="727">conseguir</text></g>
<g id="n-seguir"><text class="s11" x="768" y="737">seguir</text></g>
<g id="n-foco"><text class="s11" x="828" y="734">foco</text></g>
<g id="n-tempo"><text class="s17" x="806" y="762">tempo</text></g>
<g id="n-lado"><text class="s17" x="787" y="771">lado</text></g>
<g id="n-preciso"><text class="s14" x="756" y="779">preciso</text></g>
<g id="n-chegar"><text class="s11" x="626" y="770">chegar</text></g>
<g id="n-antipetismo"><text class="s14" x="661" y="803">antipetismo</text></g>
<g id="n-deixar"><text class="s16" x="823" y="807">deixar</text></g>
<g id="n-crise"><text class="s10" x="870" y="811">crise</text></g>
<g id="n-parecer"><text class="s11" x="691" y="838">parecer</text></g>
<g id="n-escolher"><text class="s11" x="727" y="839">escolher</text></g>
<g id="n-vez"><text class="s13" x="783" y="898">vez</text></g>
<g id="n-medo"><text class="s11" x="807" y="922">medo</text></g>
<g id="n-importar"><text class="s11" x="874" y="700">importar</text></g>
<g id="n-vcs"><text class="s10" x="944" y="691">vcs</text></g>
<g id="n-maria"><text class="s11" x="981" y="732">maria</text></g>
<g id="n-favor"><text class="s13" x="932" y="755">favor</text></g>
<g id="n-bancada"><text class="s11" x="949" y="786">bancada</text></g>
</g>
</svg>
